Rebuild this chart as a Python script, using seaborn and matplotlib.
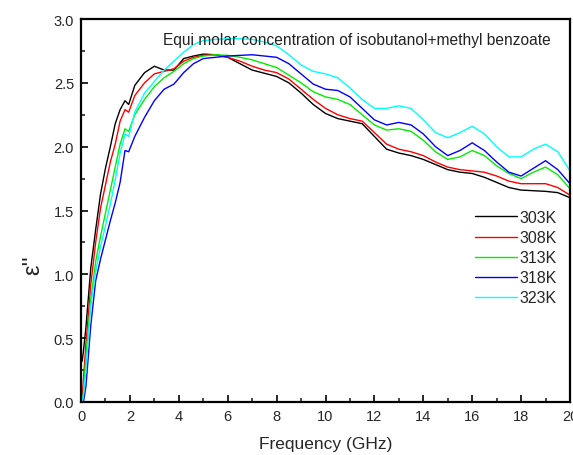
import matplotlib
matplotlib.use("Agg")
import matplotlib.pyplot as plt
import seaborn as sns
import pandas as pd
from matplotlib.ticker import MultipleLocator

# ---- data ----
freq = [0.05, 0.1, 0.2, 0.4, 0.6, 0.8, 1.0, 1.2, 1.4, 1.6, 1.8, 1.95, 2.2, 2.6, 3.0,
        3.4, 3.8, 4.2, 4.6, 5.0, 5.5, 6.0, 6.5, 7.0, 7.5, 8.0, 8.5, 9.0, 9.5, 10.0,
        10.5, 11.0, 11.5, 12.0, 12.5, 13.0, 13.5, 14.0, 14.5, 15.0, 15.5, 16.0, 16.5,
        17.0, 17.5, 18.0, 18.5, 19.0, 19.5, 20.0]

eps_303 = [0.32, 0.40, 0.58, 1.05, 1.35, 1.63, 1.83, 2.00, 2.18, 2.29, 2.36, 2.33, 2.48, 2.58, 2.63,
           2.60, 2.60, 2.69, 2.71, 2.725, 2.72, 2.70, 2.65, 2.60, 2.575, 2.55, 2.50, 2.42, 2.33, 2.26,
           2.22, 2.20, 2.18, 2.08, 1.98, 1.95, 1.93, 1.90, 1.86, 1.82, 1.80, 1.79, 1.76,
           1.72, 1.68, 1.66, 1.655, 1.65, 1.64, 1.60]
eps_308 = [0.05, 0.18, 0.45, 0.92, 1.25, 1.52, 1.70, 1.88, 2.02, 2.20, 2.29, 2.27, 2.40, 2.50, 2.57,
           2.59, 2.61, 2.67, 2.70, 2.715, 2.72, 2.70, 2.67, 2.63, 2.60, 2.58, 2.53, 2.45, 2.37, 2.30,
           2.25, 2.22, 2.20, 2.11, 2.02, 1.98, 1.96, 1.93, 1.88, 1.84, 1.82, 1.81, 1.80,
           1.77, 1.73, 1.71, 1.71, 1.71, 1.68, 1.62]
eps_313 = [0.00, 0.08, 0.35, 0.80, 1.10, 1.30, 1.48, 1.66, 1.84, 2.02, 2.14, 2.12, 2.25, 2.37, 2.47,
           2.54, 2.59, 2.65, 2.69, 2.71, 2.72, 2.715, 2.70, 2.68, 2.65, 2.62, 2.56, 2.50, 2.43, 2.39,
           2.37, 2.33, 2.25, 2.17, 2.13, 2.14, 2.12, 2.05, 1.96, 1.90, 1.92, 1.97, 1.93,
           1.85, 1.79, 1.75, 1.80, 1.84, 1.78, 1.67]
eps_318 = [0.00, 0.00, 0.12, 0.60, 0.95, 1.12, 1.27, 1.42, 1.56, 1.72, 1.97, 1.96, 2.08, 2.23, 2.36,
           2.45, 2.49, 2.58, 2.65, 2.69, 2.70, 2.71, 2.715, 2.72, 2.71, 2.70, 2.65, 2.57, 2.49, 2.45,
           2.44, 2.39, 2.30, 2.21, 2.17, 2.19, 2.17, 2.10, 2.00, 1.93, 1.97, 2.03, 1.97,
           1.88, 1.80, 1.77, 1.83, 1.89, 1.82, 1.71]
eps_323 = [0.00, 0.05, 0.25, 0.75, 1.02, 1.22, 1.38, 1.55, 1.74, 1.95, 2.10, 2.08, 2.27, 2.42, 2.51,
           2.60, 2.67, 2.74, 2.80, 2.83, 2.84, 2.845, 2.845, 2.84, 2.82, 2.79, 2.72, 2.64, 2.59, 2.57,
           2.54, 2.46, 2.37, 2.30, 2.30, 2.32, 2.30, 2.21, 2.11, 2.07, 2.11, 2.16, 2.10,
           2.00, 1.92, 1.92, 1.98, 2.02, 1.96, 1.81]

temps = ["303K", "308K", "313K", "318K", "323K"]
colors = ["#000000", "#FF0000", "#00EE00", "#0000FF", "#00FFFF"]
x_ticks = [0, 2, 4, 6, 8, 10, 12, 14, 16, 18, 20]
y_ticks = [0.0, 0.5, 1.0, 1.5, 2.0, 2.5, 3.0]
title_text = "Equi molar concentration of isobutanol+methyl benzoate"

series = [eps_303, eps_308, eps_313, eps_318, eps_323]
rows = []
for t, vals in zip(temps, series):
    for f, v in zip(freq, vals):
        rows.append({"Frequency": f, "eps": v, "T": t})
df = pd.DataFrame(rows)

sns.set_style("ticks")
plt.rcParams["font.family"] = ["Liberation Sans", "DejaVu Sans"]

fig = plt.figure(figsize=(5.73, 4.56), dpi=100)
ax = fig.add_axes([81 / 573, 1 - 403 / 456, (570 - 81) / 573, (403 - 20) / 456])

sns.lineplot(data=df, x="Frequency", y="eps", hue="T", hue_order=temps,
             palette=dict(zip(temps, colors)), linewidth=1.0, ax=ax, legend=False)

ax.set_xlim(0, 20)
ax.set_ylim(0, 3.0)
ax.set_xticks(x_ticks)
ax.set_yticks(y_ticks)
ax.set_xticklabels([str(t) for t in x_ticks])
ax.set_yticklabels([f"{t:.1f}" for t in y_ticks])
ax.xaxis.set_minor_locator(MultipleLocator(1))
ax.yaxis.set_minor_locator(MultipleLocator(0.25))
ax.tick_params(which="major", direction="in", length=5, width=1.4, labelsize=10.5,
               top=False, right=False, pad=5)
ax.tick_params(which="minor", direction="in", length=3, width=1.2, top=False, right=False)
for s in ax.spines.values():
    s.set_visible(True)
    s.set_linewidth(1.6)
    s.set_color("black")

ax.set_xlabel("Frequency (GHz)", fontsize=12.5)
ax.set_ylabel("\u03b5''", fontsize=17)
ax.yaxis.set_label_coords(-0.075, 0.36)
ax.xaxis.set_label_coords(0.5, -0.09)

ax.text((163 - 81) / 489, (403 - 40) / 383, title_text, transform=ax.transAxes,
        fontsize=11.2, ha="left", va="center", color="#222222")

handles = [plt.Line2D([], [], color=c, linewidth=1.0) for c in colors]
ax.legend(handles, temps, loc="upper left", bbox_to_anchor=((475 - 81) / 489, (403 - 211) / 383),
          frameon=False, fontsize=11.5, handlelength=2.6, handletextpad=0.2,
          labelspacing=0.32, borderpad=0, borderaxespad=0)

fig.savefig("out.png", dpi=100)
